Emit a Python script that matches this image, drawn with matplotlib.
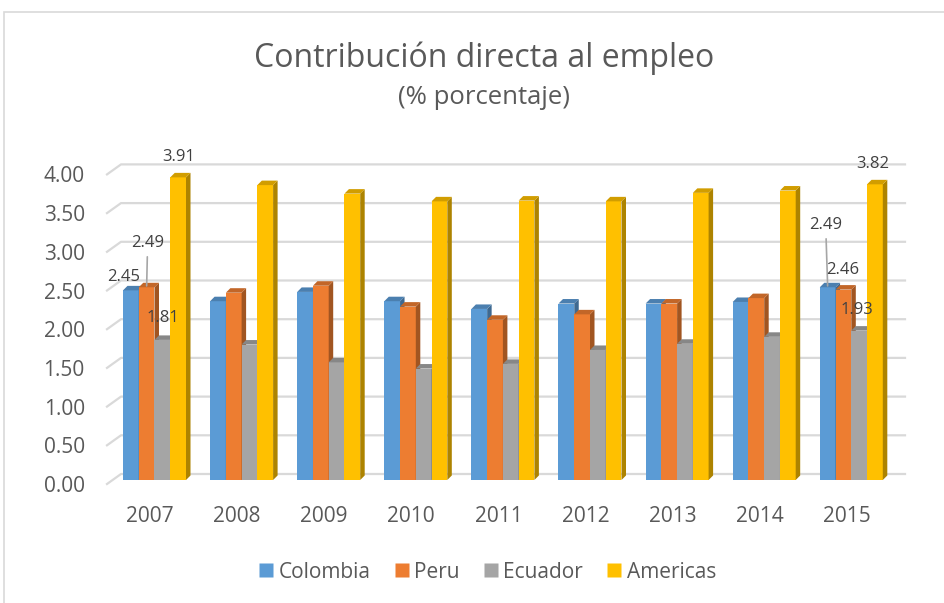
import matplotlib.pyplot as plt
from matplotlib.patches import Polygon, Rectangle
from matplotlib.lines import Line2D
import matplotlib.transforms as mtransforms
import matplotlib.colors as mcolors

years = ["2007", "2008", "2009", "2010", "2011", "2012", "2013", "2014", "2015"]
series = ["Colombia", "Peru", "Ecuador", "Americas"]
colombia = [2.45, 2.31, 2.43, 2.31, 2.21, 2.28, 2.28, 2.30, 2.49]
peru = [2.49, 2.42, 2.51, 2.24, 2.07, 2.14, 2.28, 2.35, 2.46]
ecuador = [1.81, 1.75, 1.52, 1.44, 1.50, 1.68, 1.76, 1.85, 1.93]
americas = [3.91, 3.81, 3.70, 3.60, 3.61, 3.60, 3.71, 3.74, 3.82]
y_ticks = [0.0, 0.5, 1.0, 1.5, 2.0, 2.5, 3.0, 3.5, 4.0]

values = [colombia, peru, ecuador, americas]
colors = ["#5B9BD5", "#ED7D31", "#A5A5A5", "#FFC000"]
TEXT = "#595959"
GRID = "#D9D9D9"
FONT = "Open Sans"

# label offsets in pixels (dx, dy) for the labelled points, and whether a leader line is drawn
label_offsets = {
    (0, 0): (-7, 13, False), (1, 0): (1, 44, True), (2, 0): (1, 22, False), (3, 0): (1, 20, False),
    (0, 8): (-2, 62, True), (1, 8): (-1, 20, False), (2, 8): (-2, 21, False), (3, 8): (-2, 20, False),
}

W, H = 945, 603
PX_X = 87.1   # pixels per category
PX_Y = 77.4   # pixels per unit


def shade(c, f):
    r, g, b = mcolors.to_rgb(c)
    return (r * f, g * f, b * f)


fig = plt.figure(figsize=(W / 100, H / 100), dpi=100)
left_px, right_px, base_px, x0_px = 107, 905, 480, 150
ymax = 4.3
ax = fig.add_axes([left_px / W, 1 - base_px / H, (right_px - left_px) / W, ymax * PX_Y / H])
xmin = (left_px - x0_px) / PX_X
xmax = (right_px - x0_px) / PX_X
ax.set_xlim(xmin, xmax)
ax.set_ylim(0, ymax)
for s in ax.spines.values():
    s.set_visible(False)

# back-wall gridlines with slanted floor edge
for v in y_ticks:
    fy = v - 4 / PX_Y
    by = v + 6 / PX_Y
    bx = xmin + 14 / PX_X
    ax.plot([xmin, bx, xmax], [fy, by, by], color=GRID, lw=1.6, zorder=1, clip_on=False)

# pseudo-3D columns
bw = 15.75 / PX_X
g0 = -27 / PX_X
ddx = 4.5 / PX_X
ddy = 4.5 / PX_Y
z = 2
for i in range(len(years)):
    for k in range(len(series)):
        v = values[k][i]
        x = i + g0 + k * bw
        c = colors[k]
        ax.add_patch(Rectangle((x, 0), bw, v, facecolor=c, edgecolor="none", zorder=z))
        ax.add_patch(Polygon([(x + bw, 0), (x + bw + ddx, ddy), (x + bw + ddx, v + ddy), (x + bw, v)],
                             closed=True, facecolor=shade(c, 0.68), edgecolor="none", zorder=z))
        ax.add_patch(Polygon([(x, v), (x + ddx, v + ddy), (x + bw + ddx, v + ddy), (x + bw, v)],
                             closed=True, facecolor=shade(c, 0.82), edgecolor="none", zorder=z))
        z += 1

# data labels
for (k, i), (dx, dy, leader) in label_offsets.items():
    v = values[k][i]
    xc = i + g0 + (k + 0.5) * bw
    arrow = dict(arrowstyle="-", color="#A6A6A6", lw=1.2, shrinkA=2, shrinkB=1) if leader else None
    ax.annotate(f"{v:.2f}", xy=(xc, v), xytext=(dx, dy), textcoords="offset pixels",
                ha="center", va="center", fontsize=12, color="#404040", family=FONT,
                arrowprops=arrow, zorder=100)

# axes labels
ax.set_yticks(y_ticks)
ax.set_yticklabels([f"{t:.2f}" for t in y_ticks])
ax.set_xticks(range(len(years)))
ax.set_xticklabels(years)
ax.tick_params(axis="y", length=0, pad=16, labelsize=15, labelcolor=TEXT)
ax.tick_params(axis="x", length=0, pad=19, labelsize=15, labelcolor=TEXT)
for lab in ax.get_yticklabels() + ax.get_xticklabels():
    lab.set_family(FONT)
shift = mtransforms.ScaledTranslation(0, -4 / 100, fig.dpi_scale_trans)
for lab in ax.get_yticklabels():
    lab.set_transform(lab.get_transform() + shift)

# titles
fig.text(484 / W, 1 - 58 / H, "Contribución directa al empleo", ha="center", va="center",
         fontsize=23, color=TEXT, family=FONT)
fig.text(484 / W, 1 - 97 / H, "(% porcentaje)", ha="center", va="center",
         fontsize=18.5, color=TEXT, family=FONT)

# legend
handles = [Line2D([], [], marker="s", linestyle="none", markersize=10, markerfacecolor=c,
                  markeredgecolor="none") for c in colors]
fig.legend(handles, series, loc="center", bbox_to_anchor=(488 / W, 1 - 572 / H), ncol=4,
           frameon=False, prop={"family": FONT, "size": 15}, labelcolor=TEXT,
           handlelength=0.6, handletextpad=0.3, columnspacing=1.2, borderaxespad=0)

# chart border (only left and top edges visible in the crop)
fig.patches.append(Rectangle((4 / W, -0.1), 1.2, 1 - 12 / H + 0.1, transform=fig.transFigure,
                             fill=False, edgecolor=GRID, lw=1.2))

fig.savefig("out.png", dpi=100)
